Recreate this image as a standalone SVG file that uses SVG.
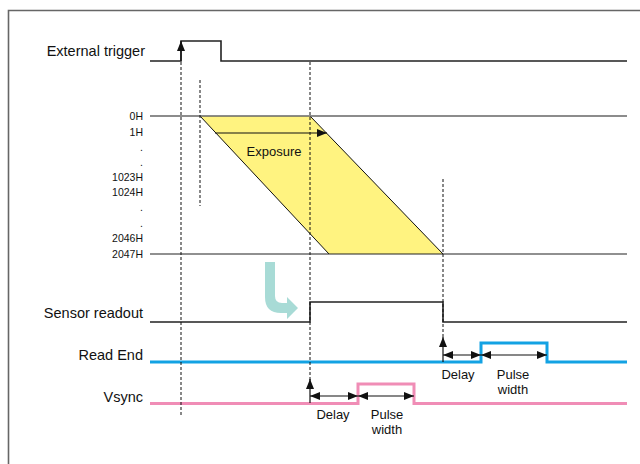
<svg xmlns="http://www.w3.org/2000/svg" width="640" height="464" viewBox="0 0 640 464">
<defs>
<style>
.lbl{font-family:"Liberation Sans",Arial,sans-serif;font-size:14.5px;fill:#111;text-anchor:end;dominant-baseline:central}
.row{font-family:"Liberation Sans",Arial,sans-serif;font-size:10.5px;fill:#111;text-anchor:end;dominant-baseline:central}
.note{font-family:"Liberation Sans",Arial,sans-serif;font-size:13px;fill:#111;text-anchor:middle;dominant-baseline:central}
.sig{fill:none;stroke:#222;stroke-width:1.6}
.dash{fill:none;stroke:#111;stroke-width:1;stroke-dasharray:3,2}
.arr{fill:none;stroke:#111;stroke-width:1.2}
</style>
<marker id="ah" viewBox="0 0 10 8" refX="10" refY="4" markerWidth="10" markerHeight="8" markerUnits="userSpaceOnUse" orient="auto-start-reverse">
<path d="M0,0 L10,4 L0,8 Z" fill="#111"/>
</marker>
</defs>
<rect width="640" height="464" fill="#fff"/>
<g id="frame" fill="none" stroke="#666" stroke-width="1.6">
<path d="M8.5,464 V10.5 H640"/>
</g>

<g id="exposure-area">
<polygon points="200,116 310,116 443,254 329,254" fill="#FFF380"/>
<path d="M200,116 L329,254 M310,116 L443,254" stroke="#111" stroke-width="1" fill="none"/>
</g>

<g id="row-lines">
<line x1="150" y1="116" x2="627" y2="116" stroke="#666" stroke-width="1.4"/>
<line x1="150" y1="254" x2="627" y2="254" stroke="#222" stroke-width="1.2"/>
<text class="row" x="143" y="116">0H</text>
<text class="row" x="143" y="131.5">1H</text>
<text class="row" x="143" y="147">.</text>
<text class="row" x="143" y="162">.</text>
<text class="row" x="143" y="177">1023H</text>
<text class="row" x="143" y="191.5">1024H</text>
<text class="row" x="143" y="207">.</text>
<text class="row" x="143" y="223">.</text>
<text class="row" x="143" y="237.5">2046H</text>
<text class="row" x="143" y="254">2047H</text>
</g>

<g id="external-trigger">
<text class="lbl" x="145" y="51">External trigger</text>
<path class="sig" d="M150,61 H181 V41 H221 V61 H627" stroke="#444" stroke-width="2"/>
</g>

<g id="sensor-readout">
<text class="lbl" x="143" y="313">Sensor readout</text>
<path class="sig" d="M150,322 H310 V302 H443 V322 H627"/>
</g>

<g id="read-end">
<text class="lbl" x="143" y="355">Read End</text>
<path d="M150,362 H481 V343 H547 V362 H627" fill="none" stroke="#13A2E3" stroke-width="3"/>
</g>

<g id="vsync">
<text class="lbl" x="143" y="397">Vsync</text>
<path d="M150,403.5 H358 V384 H414 V403.5 H627" fill="none" stroke="#F08DB6" stroke-width="3"/>
</g>

<g id="exposure-label">
<line class="arr" x1="215" y1="133" x2="327" y2="133" marker-end="url(#ah)"/>
<text class="note" x="274" y="151">Exposure</text>
</g>

<g id="readout-arrow">
<path d="M265,262 H275 V296 Q275,303 282,303 H287 V297 L298,308 L287,319 V313 H281 Q265,313 265,297 Z" fill="#A8DBD6"/>
</g>

<g id="connectors">
<line class="dash" x1="181" y1="62" x2="181" y2="415"/>
<line class="dash" x1="200" y1="80" x2="200" y2="206"/>
<line class="dash" x1="310" y1="62" x2="310" y2="380"/>
<line class="dash" x1="443" y1="179" x2="443" y2="338"/>
<line class="arr" x1="181" y1="61" x2="181" y2="41" marker-end="url(#ah)"/>
<line class="arr" x1="443" y1="362" x2="443" y2="337" marker-end="url(#ah)"/>
<line class="arr" x1="310" y1="403" x2="310" y2="379" marker-end="url(#ah)"/>
<line class="arr" x1="443" y1="355" x2="481" y2="355" marker-start="url(#ah)" marker-end="url(#ah)"/>
<line class="arr" x1="481" y1="355" x2="547" y2="355" marker-start="url(#ah)" marker-end="url(#ah)"/>
<line class="arr" x1="310" y1="396" x2="358" y2="396" marker-start="url(#ah)" marker-end="url(#ah)"/>
<line class="arr" x1="358" y1="396" x2="414" y2="396" marker-start="url(#ah)" marker-end="url(#ah)"/>
</g>

<g id="timing-labels">
<text class="note" x="458" y="374">Delay</text>
<text class="note" x="513" y="374">Pulse</text>
<text class="note" x="513" y="389">width</text>
<text class="note" x="333" y="414">Delay</text>
<text class="note" x="387" y="414">Pulse</text>
<text class="note" x="387" y="429">width</text>
</g>
</svg>
